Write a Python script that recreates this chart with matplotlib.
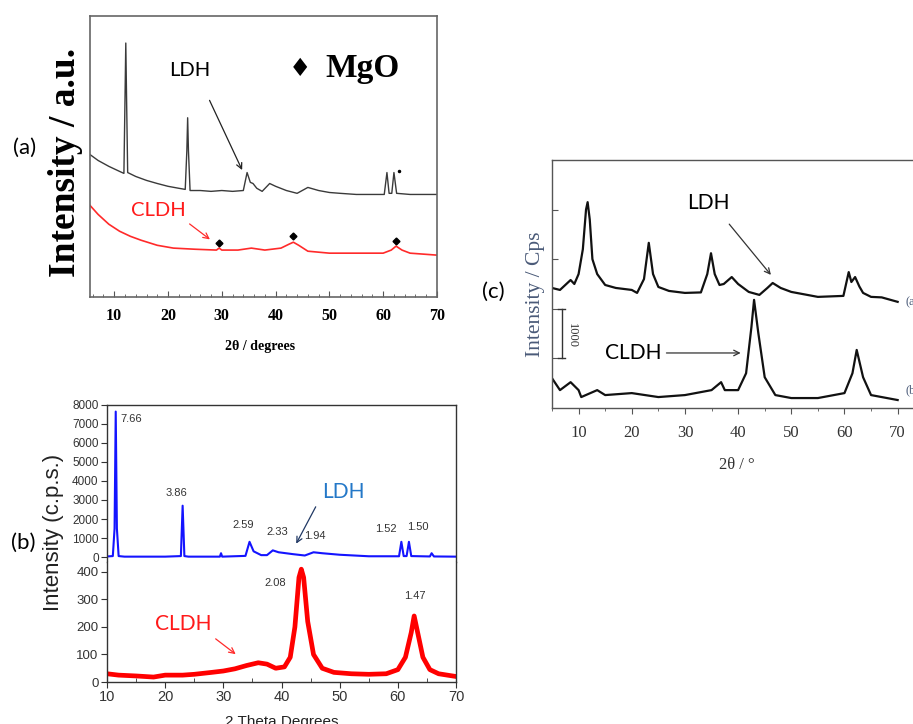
import matplotlib
matplotlib.use("Agg")
import matplotlib.pyplot as plt
from matplotlib.ticker import MultipleLocator

SERIF = "Liberation Serif"
SANS = "Liberation Sans"
LABEL = "Lato"

# ---- panel (a): arbitrary units (0 = frame bottom, 100 = frame top)
aLdhX = [5.5, 7, 9, 11, 11.8, 12.0, 12.15, 12.3, 12.5, 14, 16, 18, 20, 22, 23.2, 23.5, 23.65, 23.8,
         24.1, 26, 28, 30, 32, 34, 34.7, 35.3, 35.8, 36.5, 37.5, 38.9, 40, 42, 44, 46, 48, 50, 52,
         55, 60.2, 60.7, 61.1, 61.6, 62.0, 62.5, 65, 70]
aLdhY = [50.7, 48.6, 46.5, 44.7, 44.0, 70, 90.4, 70, 44.3, 42.9, 41.5, 40.4, 39.4, 38.7, 38.3, 52, 63.8, 52,
         37.9, 37.9, 37.6, 37.9, 37.6, 37.9, 44.3, 40.8, 40.4, 38.7, 37.6, 40.4, 39.4, 37.9, 36.9, 39.0, 37.9, 37.2, 36.9,
         36.5, 36.5, 44.3, 36.9, 36.9, 44.3, 36.9, 36.5, 36.5]
aCldhX = [5.5, 7, 9, 11, 13, 15, 18, 21, 25, 29, 29.5, 30, 33, 35.5, 38, 41, 42.5, 43.3, 44.3, 46,
          50, 55, 60, 61.5, 62.4, 63.5, 65, 70]
aCldhY = [32.6, 29.4, 25.9, 23.4, 21.6, 20.2, 18.4, 17.4, 17.0, 16.7, 17.4, 16.7, 16.7, 17.4, 16.7, 17.4, 18.8, 19.5, 18.4, 16.3,
          15.6, 15.6, 15.6, 16.7, 18.1, 16.7, 15.6, 14.9]
mgoX = [29.5, 43.3, 62.4]
mgoY = [19.1, 21.6, 19.9]

# ---- panel (b): counts per second
bLdhX = [10, 11.0, 11.3, 11.5, 11.7, 12.0, 13, 20, 22.7, 23.0, 23.3, 24, 29.4, 29.6, 29.8, 33.8, 34.5, 35.2,
         36.5, 37.5, 38.5, 39.5, 42, 44, 45.5, 47, 50, 55, 60.2, 60.6, 61.0, 61.5, 61.9, 62.3, 65.5, 65.8, 66.2, 70]
bLdhY = [30, 50, 1500, 7650, 1500, 50, 20, 20, 50, 2700, 50, 20, 20, 200, 20, 60, 800, 300,
         100, 100, 350, 250, 150, 80, 250, 200, 120, 40, 40, 800, 50, 50, 800, 50, 30, 200, 30, 20]
bCldhX = [10, 12, 15, 18, 20, 23, 25, 28, 30, 32, 34, 36, 37.5, 39, 40.5, 41.5, 42.3, 43.0, 43.4, 43.8,
          44.5, 45.5, 47, 49, 52, 55, 58, 60, 61.3, 62.3, 62.8, 63.3, 64.3, 65.5, 67, 70]
bCldhY = [30, 25, 22, 18, 25, 25, 28, 35, 40, 48, 60, 70, 65, 50, 55, 90, 200, 380, 410, 380,
          220, 100, 50, 35, 30, 28, 30, 45, 90, 180, 240, 190, 90, 45, 30, 20]
bLdhPeaks = ["7.66", "3.86", "2.59", "2.33", "1.94", "1.52", "1.50"]
bLdhPeakX = [14.1, 21.9, 33.4, 39.2, 45.8, 58.0, 63.5]
bLdhPeakY = [7270, 3350, 1670, 1300, 1100, 1460, 1570]
bCldhPeaks = ["2.08", "1.47"]
bCldhPeakX = [38.9, 63.0]
bCldhPeakY = [360, 313]

# ---- panel (c): Cps (curves offset)
cLdhX = [5, 6.5, 7.5, 8.5, 9.2, 10, 10.8, 11.4, 11.7, 12.1, 12.6, 13.5, 15, 17, 20, 21, 22.3, 23.2, 24,
         25, 27, 30, 33, 34.2, 34.9, 35.6, 36.5, 37.3, 38.8, 40, 42, 44, 45.5, 46.5, 48, 50, 55,
         59.8, 60.8, 61.3, 62, 62.8, 63.5, 65, 67, 70]
cLdhY = [2420, 2380, 2480, 2580, 2500, 2700, 3200, 4000, 4150, 3800, 3000, 2700, 2480, 2420, 2380, 2320, 2600, 3330, 2700,
         2440, 2360, 2320, 2330, 2700, 3120, 2700, 2480, 2500, 2640, 2500, 2340, 2280, 2420, 2520, 2420, 2340, 2240,
         2260, 2740, 2540, 2640, 2450, 2320, 2240, 2230, 2140]
cCldhX = [5, 6.5, 8.5, 10, 10.5, 13.5, 15, 20, 25, 30, 35, 36.8, 37.5, 40, 41.5, 42.5, 43, 43.8, 45,
          47, 50, 55, 60, 61.5, 62.3, 63.5, 65, 70]
cCldhY = [600, 360, 520, 360, 220, 360, 260, 300, 220, 260, 360, 520, 360, 360, 700, 1630, 2180, 1510, 620,
          260, 200, 200, 300, 700, 1170, 620, 260, 160]


def plotPanelA(fig):
	ax = fig.add_axes([0.0986, 0.5898, 0.380, 0.388])
	ax.plot(aLdhX, aLdhY, color="#3a3a3a", lw=1.0)
	ax.plot(aCldhX, aCldhY, color="#ff2a2a", lw=1.2)
	ax.plot(mgoX, mgoY, "D", ms=3.5, color="black")
	ax.plot([62.9], [44.9], ".", ms=3, color="black")
	ax.set_xlim(5.5, 70)
	ax.set_ylim(0, 100)
	ax.set_yticks([])
	ax.xaxis.set_major_locator(MultipleLocator(10))
	ax.xaxis.set_minor_locator(MultipleLocator(2))
	ax.tick_params(axis="x", which="major", direction="in", length=4, color="#555",
				   labelsize=11.5, pad=8)
	ax.tick_params(axis="x", which="minor", direction="in", length=2, color="#555")
	for lbl in ax.get_xticklabels():
		lbl.set_fontfamily(SERIF)
		lbl.set_fontweight("bold")
	for s in ax.spines.values():
		s.set_color("#666")
		s.set_linewidth(1.2)
	ax.annotate("", xy=(34.0, 44.3), xytext=(27.5, 70.9),
				arrowprops=dict(arrowstyle="->", color="#222", lw=0.9))
	ax.text(24.1, 80.5, "LDH", family=LABEL, fontsize=14.5, ha="center", va="center")
	ax.annotate("", xy=(28.2, 19.9), xytext=(23.6, 26.6),
				arrowprops=dict(arrowstyle="->", color="#ff2a2a", lw=0.9))
	ax.text(18.2, 30.9, "CLDH", family=LABEL, fontsize=14.5, color="#ff1a1a", ha="center", va="center")
	ax.text(44.6, 81.2, "\u2666", family="DejaVu Sans", fontsize=18, ha="center", va="center")
	ax.text(56.1, 81.2, "MgO", family=SERIF, fontweight="bold", fontsize=24, ha="center", va="center")
	fig.text(0.285, 0.522, "2\u03b8 / degrees", family=SERIF, fontweight="bold", fontsize=10,
			 ha="center", va="center")
	fig.text(0.072, 0.776, "Intensity / a.u.", family=SERIF, fontweight="bold", fontsize=27,
			 rotation=90, ha="center", va="center")
	fig.text(0.027, 0.796, "(a)", family=LABEL, fontsize=16, ha="center", va="center")


def plotPanelB(fig):
	axTop = fig.add_axes([0.1172, 0.2238, 0.3823, 0.2169])
	axBot = fig.add_axes([0.1172, 0.058, 0.3823, 0.1657])
	axTop.plot(bLdhX, bLdhY, color="#1414ff", lw=1.5)
	axBot.plot(bCldhX, bCldhY, color="#ff0000", lw=3.4)
	axTop.set_xlim(10, 70)
	axBot.set_xlim(10, 70)
	axTop.set_ylim(-260, 8000)
	axBot.set_ylim(0, 436)
	axTop.set_yticks(range(0, 8001, 1000))
	axBot.set_yticks(range(0, 401, 100))
	axTop.set_xticks([])
	axTop.spines["bottom"].set_visible(False)
	axBot.spines["top"].set_visible(False)
	axBot.xaxis.set_major_locator(MultipleLocator(10))
	axBot.xaxis.set_minor_locator(MultipleLocator(5))
	for ax in (axTop, axBot):
		for s in ax.spines.values():
			s.set_color("#333")
			s.set_linewidth(1.0)
		ax.tick_params(axis="y", direction="out", length=4, color="#333", labelcolor="#333", pad=2)
		for lbl in ax.get_yticklabels():
			lbl.set_fontfamily(SANS)
	axTop.tick_params(axis="y", labelsize=8.5)
	axBot.tick_params(axis="y", labelsize=9.5)
	axBot.tick_params(axis="x", which="major", direction="out", length=4, color="#333",
					  labelcolor="#333", labelsize=10.5, pad=2)
	axBot.tick_params(axis="x", which="minor", direction="in", length=3, color="#333")
	for lbl in axBot.get_xticklabels():
		lbl.set_fontfamily(SANS)
	for t, x, y in zip(bLdhPeaks, bLdhPeakX, bLdhPeakY):
		axTop.text(x, y, t, family=SANS, fontsize=8, color="#333", ha="center", va="center")
	for t, x, y in zip(bCldhPeaks, bCldhPeakX, bCldhPeakY):
		axBot.text(x, y, t, family=SANS, fontsize=8, color="#333", ha="center", va="center")
	axTop.text(50.6, 3400, "LDH", family=LABEL, fontsize=15, color="#2478c8", ha="center", va="center")
	axTop.annotate("", xy=(42.3, 575), xytext=(46.1, 2770),
				   arrowprops=dict(arrowstyle="->", color="#203864", lw=0.9))
	axBot.text(23.1, 210, "CLDH", family=LABEL, fontsize=15, color="#ff1a1a", ha="center", va="center")
	axBot.annotate("", xy=(32.5, 95), xytext=(28.3, 163),
				   arrowprops=dict(arrowstyle="->", color="#ff2a2a", lw=0.9))
	fig.text(0.309, 0.003, "2 Theta Degrees", family=SANS, fontsize=11, color="#222",
			 ha="center", va="center")
	fig.text(0.059, 0.264, "Intensity (c.p.s.)", family=SANS, fontsize=16, color="#222",
			 rotation=90, ha="center", va="center")
	fig.text(0.026, 0.25, "(b)", family=LABEL, fontsize=16, ha="center", va="center")


def plotPanelC(fig):
	ax = fig.add_axes([0.6046, 0.4365, 0.4077, 0.3425])
	ax.plot(cLdhX, cLdhY, color="#111", lw=1.6)
	ax.plot(cCldhX, cCldhY, color="#111", lw=1.6)
	ax.set_xlim(5, 75)
	ax.set_ylim(0, 5000)
	ax.set_yticks([1000, 2000, 3000, 4000])
	ax.set_yticklabels([])
	ax.xaxis.set_major_locator(MultipleLocator(10))
	ax.xaxis.set_minor_locator(MultipleLocator(5))
	ax.tick_params(axis="y", direction="in", length=4, color="#555")
	ax.tick_params(axis="x", which="major", direction="out", length=4, color="#555",
				   labelcolor="#333", labelsize=12, pad=8)
	ax.tick_params(axis="x", which="minor", direction="out", length=2, color="#555")
	ax.set_xticks([10, 20, 30, 40, 50, 60, 70])
	for lbl in ax.get_xticklabels():
		lbl.set_fontfamily(SERIF)
	for s in ax.spines.values():
		s.set_color("#555")
		s.set_linewidth(1.0)
	# scale bar
	ax.plot([6.8, 6.8], [1000, 2000], color="#333", lw=1.0)
	ax.plot([6.1, 7.5], [1000, 1000], color="#333", lw=1.0)
	ax.plot([6.1, 7.5], [2000, 2000], color="#333", lw=1.0)
	ax.text(8.8, 1470, "1000", family=SERIF, fontsize=9, color="#333", rotation=270,
			ha="center", va="center")
	ax.text(71.5, 2140, "(a)", family=SERIF, fontsize=9, color="#4a5a78", ha="left", va="center")
	ax.text(71.5, 360, "(b)", family=SERIF, fontsize=9, color="#4a5a78", ha="left", va="center")
	ax.text(34.4, 4133, "LDH", family=LABEL, fontsize=15, ha="center", va="center")
	ax.annotate("", xy=(46.5, 2640), xytext=(38.0, 3750),
				arrowprops=dict(arrowstyle="->", color="#333", lw=0.9))
	ax.text(20.3, 1109, "CLDH", family=LABEL, fontsize=15, ha="center", va="center")
	ax.annotate("", xy=(41.0, 1109), xytext=(26.0, 1109),
				arrowprops=dict(arrowstyle="->", color="#333", lw=0.9))
	fig.text(0.807, 0.358, "2\u03b8 / \u00b0", family=SERIF, fontsize=12, color="#333",
			 ha="center", va="center")
	fig.text(0.586, 0.594, "Intensity / Cps", family=SERIF, fontsize=15.5, color="#4a5a78",
			 rotation=90, ha="center", va="center")
	fig.text(0.54, 0.597, "(c)", family=LABEL, fontsize=16, ha="center", va="center")


def main():
	fig = plt.figure(figsize=(9.13, 7.24), dpi=100)
	plotPanelA(fig)
	plotPanelB(fig)
	plotPanelC(fig)
	fig.savefig("out.png", dpi=100)


if __name__ == '__main__':
	main()
